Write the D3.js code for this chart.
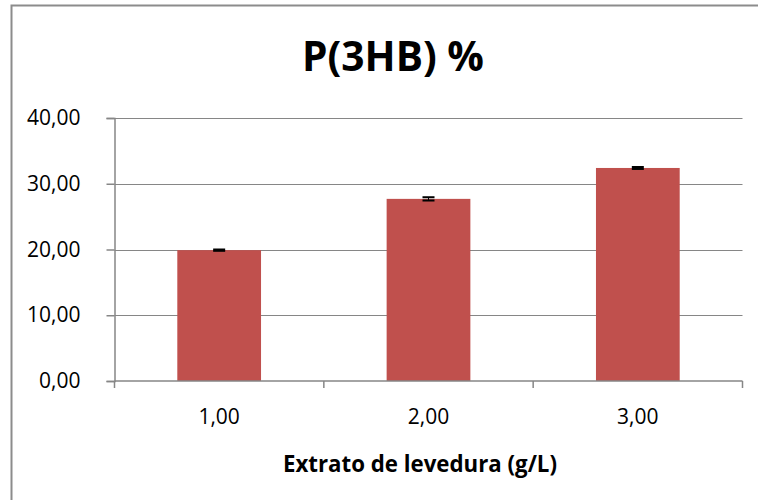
<!DOCTYPE html>
<html>
<head>
<meta charset="utf-8">
<script src="https://cdn.jsdelivr.net/npm/d3@7"></script>
<style>
html,body{margin:0;padding:0;background:#fff;}
svg{display:block;}
text{font-family:"Open Sans",sans-serif;fill:#000;}
</style>
</head>
<body>
<svg id="chart" width="758" height="500"></svg>
<script>
const categories = ["1,00", "2,00", "3,00"];
const values = [19.9, 27.7, 32.4];
const errors = [0.1, 0.25, 0.15];
const yTicks = [0, 10, 20, 30, 40];
const title = "P(3HB) %";
const xTitle = "Extrato de levedura (g/L)";

const svg = d3.select("#chart");
const m = {left: 114.5, right: 742.5, top: 118, bottom: 381};

svg.append("rect").attr("x", 11.5).attr("y", 5.5).attr("width", 760).attr("height", 520)
  .attr("fill", "none").attr("stroke", "#8c8c8c").attr("stroke-width", 2);

const x = d3.scaleBand().domain(categories).range([m.left, m.right]).paddingInner(0.6).paddingOuter(0.3);
const xOuter = d3.scaleBand().domain(categories).range([m.left, m.right]);
const y = d3.scaleLinear().domain([0, 40]).range([m.bottom, m.top]);

svg.append("g").selectAll("line").data(yTicks.filter(d => d > 0)).join("line")
  .attr("x1", m.left).attr("x2", m.right)
  .attr("y1", d => Math.round(y(d)) + 0.5).attr("y2", d => Math.round(y(d)) + 0.5)
  .attr("stroke", "#868686").attr("stroke-width", 1);

svg.append("g").selectAll("rect").data(values).join("rect")
  .attr("x", (d, i) => x(categories[i]))
  .attr("width", x.bandwidth())
  .attr("y", d => y(d))
  .attr("height", d => y(0) - y(d))
  .attr("fill", "#C0504D");

const eg = svg.append("g");
values.forEach((v, i) => {
  const cx = x(categories[i]) + x.bandwidth() / 2;
  eg.append("line").attr("x1", cx).attr("x2", cx).attr("y1", y(v + errors[i])).attr("y2", y(v - errors[i]))
    .attr("stroke", "#000").attr("stroke-width", 1);
  [v + errors[i], v - errors[i]].forEach(e => {
    eg.append("line").attr("x1", cx - 6).attr("x2", cx + 6).attr("y1", y(e)).attr("y2", y(e))
      .attr("stroke", "#000").attr("stroke-width", 2);
  });
});

function fit(sel, target) {
  const node = sel.node();
  const w = node.getComputedTextLength();
  const fs = parseFloat(sel.attr("font-size"));
  sel.attr("font-size", (fs * target / w).toFixed(2));
}

const yAxis = svg.append("g").attr("transform", `translate(${m.left},0)`)
  .call(d3.axisLeft(y).tickValues(yTicks).tickSize(8).tickPadding(26)
    .tickFormat(d => d3.format(".2f")(d).replace(".", ",")));
yAxis.select(".domain").attr("stroke", "#868686").attr("stroke-width", 1.5);
yAxis.selectAll(".tick line").attr("stroke", "#868686").attr("stroke-width", 1.5);
yAxis.selectAll(".tick text").attr("font-size", 21).attr("font-family", "Open Sans").attr("fill", "#000");

const xg = svg.append("g").attr("transform", `translate(0,${m.bottom})`);
xg.append("line").attr("x1", m.left).attr("x2", m.right).attr("y1", 0).attr("y2", 0)
  .attr("stroke", "#868686").attr("stroke-width", 1.5);
const bounds = categories.map(c => xOuter(c)).concat([m.right]);
xg.selectAll("line.t").data(bounds).join("line").attr("class", "t")
  .attr("x1", d => d).attr("x2", d => d).attr("y1", 0).attr("y2", 7)
  .attr("stroke", "#868686").attr("stroke-width", 1.5);
xg.selectAll("text").data(categories).join("text")
  .attr("x", d => xOuter(d) + xOuter.bandwidth() / 2).attr("y", 43)
  .attr("text-anchor", "middle").attr("font-size", 21).text(d => d);

const t = svg.append("text").attr("x", 393).attr("y", 71).attr("text-anchor", "middle")
  .attr("font-size", 34).attr("font-weight", "bold").text(title);
fit(t, 182);
const xt = svg.append("text").attr("x", 420).attr("y", 472).attr("text-anchor", "middle")
  .attr("font-size", 20).attr("font-weight", "bold").text(xTitle);
fit(xt, 274);
</script>
</body>
</html>
